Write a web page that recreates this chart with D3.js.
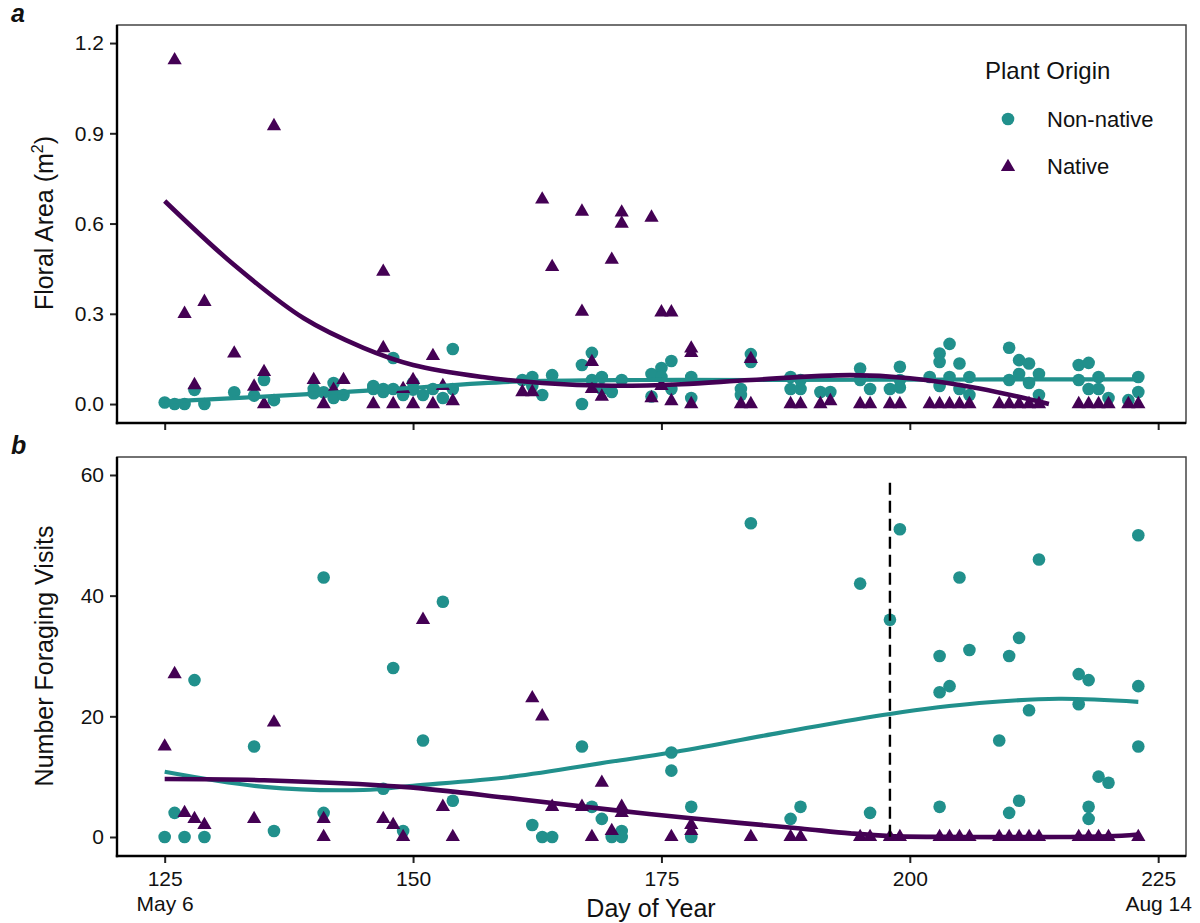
<!DOCTYPE html>
<html>
<head>
<meta charset="utf-8">
<script src="https://cdn.jsdelivr.net/npm/d3@7"></script>
<style>
  body { margin: 0; background: #fff; }
  svg { display: block; }
  text { font-family: "Liberation Sans", Arial, Helvetica, sans-serif; fill: #111; }
</style>
</head>
<body>
<svg id="chart" width="1200" height="923"></svg>
<script>
// ---- Data -------------------------------------------------------------
const seriesNames = ["Non-native", "Native"];
const seriesColors = ["#21908C", "#440154"];

// Panel a: floral area (m^2) by day of year
const areaNonNative = [
  [125,0.005],[126,0.0],[127,0.0],[128,0.047],[129,0.0],[132,0.039],[134,0.028],[135,0.08],
  [136,0.013],[140,0.036],[140,0.05],[141,0.039],[142,0.07],[142,0.02],[143,0.03],[146,0.05],
  [146,0.06],[147,0.05],[147,0.04],[148,0.153],[148,0.05],[149,0.03],[150,0.048],[150,0.07],
  [151,0.03],[152,0.05],[153,0.02],[154,0.183],[154,0.05],[161,0.08],[162,0.09],[162,0.06],
  [163,0.03],[164,0.096],[167,0.13],[167,0.0],[168,0.17],[168,0.08],[169,0.09],[169,0.05],
  [170,0.04],[171,0.08],[174,0.1],[174,0.025],[175,0.12],[175,0.09],[176,0.143],[176,0.05],
  [178,0.09],[178,0.02],[183,0.05],[183,0.03],[184,0.166],[184,0.14],[188,0.09],[188,0.05],
  [189,0.05],[189,0.08],[191,0.04],[192,0.04],[195,0.118],[195,0.08],[196,0.05],[198,0.05],
  [199,0.124],[199,0.08],[199,0.055],[202,0.09],[203,0.168],[203,0.14],[203,0.06],[204,0.2],
  [204,0.09],[205,0.135],[205,0.05],[206,0.09],[206,0.03],[210,0.187],[210,0.08],[211,0.146],
  [211,0.1],[212,0.135],[212,0.07],[213,0.1],[213,0.03],[217,0.13],[217,0.08],[218,0.137],
  [218,0.05],[219,0.09],[219,0.05],[220,0.02],[222,0.013],[223,0.09],[223,0.04]
];
const areaNative = [
  [126,1.143],[127,0.30],[128,0.063],[129,0.34],[132,0.168],[134,0.058],[135,0.107],[135,0.0],
  [136,0.924],[140,0.08],[141,0.0],[142,0.048],[143,0.08],[146,0.0],[147,0.44],[147,0.186],
  [148,0.0],[149,0.05],[150,0.08],[150,0.0],[152,0.16],[152,0.0],[153,0.06],[154,0.01],
  [161,0.04],[162,0.04],[163,0.68],[164,0.456],[167,0.64],[167,0.307],[168,0.14],[168,0.05],
  [169,0.025],[170,0.48],[171,0.637],[171,0.6],[174,0.62],[174,0.02],[175,0.305],[175,0.06],
  [176,0.305],[176,0.01],[178,0.185],[178,0.17],[178,0.0],[183,0.0],[184,0.15],[184,0.0],
  [188,0.0],[189,0.0],[191,0.0],[192,0.01],[195,0.0],[196,0.0],[198,0.0],[199,0.0],[202,0.0],
  [203,0.0],[204,0.0],[205,0.0],[206,0.0],[209,0.0],[210,0.0],[211,0.0],[212,0.0],[213,0.0],
  [217,0.0],[218,0.0],[219,0.0],[220,0.0],[222,0.0],[223,0.0]
];
// Smoothed trends for panel a
const areaTrendNonNative = [[125,0.008],[139,0.032],[149,0.052],[160,0.074],[173,0.08],[187,0.08],[210,0.082],[223,0.082]];
const areaTrendNative = [[125,0.675],[132,0.462],[139,0.285],[145,0.187],[150,0.13],[157,0.09],[163,0.07],[170,0.061],[177,0.066],[184,0.08],[194,0.096],[200,0.086],[207,0.052],[214,0.0]];

// Panel b: number of foraging visits by day of year
const visitsNonNative = [
  [125,0],[126,4],[127,0],[128,26],[129,0],[134,15],[136,1],[141,43],[141,4],[147,8],[148,28],
  [149,1],[151,16],[153,39],[154,6],[162,2],[163,0],[164,0],[167,15],[168,5],[169,3],[170,0],
  [171,1],[171,0],[176,14],[176,11],[178,5],[178,0],[184,52],[188,3],[189,5],[195,42],[196,4],
  [198,36],[199,51],[203,30],[203,24],[203,5],[204,25],[205,43],[206,31],[209,16],[210,30],
  [210,4],[211,33],[211,6],[212,21],[213,46],[217,27],[217,22],[218,26],[218,5],[218,3],
  [219,10],[220,9],[223,50],[223,25],[223,15]
];
const visitsNative = [
  [125,15],[126,27],[127,4],[128,3],[129,2],[134,3],[136,19],[141,3],[141,0],[147,3],[148,2],
  [149,0],[151,36],[153,5],[154,0],[162,23],[163,20],[164,5],[167,5],[168,0],[169,9],[170,1],
  [171,5],[171,4],[176,0],[178,2],[178,1],[184,0],[188,0],[189,0],[195,0],[196,0],[198,0],
  [199,0],[203,0],[204,0],[205,0],[206,0],[209,0],[210,0],[211,0],[212,0],[213,0],[217,0],
  [218,0],[219,0],[220,0],[223,0]
];
// Smoothed trends for panel b
const visitsTrendNonNative = [[125,10.8],[135,8.3],[145,7.8],[150,8.5],[160,10],[170,12.5],[176,14],[187,17.3],[198,20.4],[207,22.2],[215,22.9],[223,22.4]];
const visitsTrendNative = [[125,9.6],[135,9.4],[149,8.3],[160,6.4],[170,4.5],[178,3.1],[189,1.4],[194,0.6],[198,0.15],[205,0],[215,0],[220,0.1],[223,0.4]];

// Reference day marked in panel b
const markerDay = 198;
const markerTop = 58.7;

// Ticks
const xTicks = [125, 150, 175, 200, 225];
const xTickLabels = [["125", "May 6"], ["150"], ["175"], ["200"], ["225", "Aug 14"]];
const areaTicks = [0, 0.3, 0.6, 0.9, 1.2];
const visitTicks = [0, 20, 40, 60];

// ---- Layout ------------------------------------------------------------
const svg = d3.select("#chart");
svg.append("rect").attr("width", 1200).attr("height", 923).attr("fill", "#fff");

const left = 117, right = 1186;
const x = d3.scaleLinear().domain([120.2, 227.8]).range([left, right]);
const yA = d3.scaleLinear().domain([-0.063, 1.26]).range([423, 25]);
const yB = d3.scaleLinear().domain([-3.15, 62.98]).range([856, 457]);

const triangle = d3.symbol().type(d3.symbolTriangle).size(88);

function drawPanel(y, yTicks, yFormat, showXLabels, pts, trends) {
  const [top, bottom] = [y.range()[1], y.range()[0]];
  const g = svg.append("g");

  // panel frame
  g.append("rect")
    .attr("x", left).attr("y", top)
    .attr("width", right - left).attr("height", bottom - top)
    .attr("fill", "none").attr("stroke", "#444").attr("stroke-width", 1.5);

  // points: circles for non-native, triangles for native
  g.append("g").selectAll("circle").data(pts[0]).join("circle")
    .attr("cx", d => x(d[0])).attr("cy", d => y(d[1])).attr("r", 6.3)
    .attr("fill", seriesColors[0]);
  g.append("g").selectAll("path").data(pts[1]).join("path")
    .attr("d", triangle)
    .attr("transform", d => `translate(${x(d[0])},${y(d[1])})`)
    .attr("fill", seriesColors[1]);

  // smoothed trends
  const line = d3.line().x(d => x(d[0])).y(d => y(d[1])).curve(d3.curveCatmullRom.alpha(0.5));
  trends.forEach((t, i) => {
    g.append("path").datum(t).attr("d", line)
      .attr("fill", "none").attr("stroke", seriesColors[i])
      .attr("stroke-width", i === 1 ? 4.6 : 4.1).attr("stroke-linecap", "butt");
  });

  // y axis
  const ya = g.append("g").attr("transform", `translate(${left},0)`)
    .call(d3.axisLeft(y).tickValues(yTicks).tickFormat(yFormat).tickSize(7).tickPadding(6));
  // x axis
  const xa = g.append("g").attr("transform", `translate(0,${bottom})`)
    .call(d3.axisBottom(x).tickValues(xTicks).tickSize(7).tickPadding(8)
      .tickFormat(showXLabels ? (d, i) => xTickLabels[i][0] : () => ""));

  [ya, xa].forEach(a => {
    a.select(".domain").remove();
    a.selectAll(".tick line").attr("stroke", "#222").attr("stroke-width", 2);
    a.selectAll(".tick text").attr("font-size", 21).attr("fill", "#111")
      .attr("font-family", '"Liberation Sans", Arial, sans-serif');
  });
  if (showXLabels) {
    xa.selectAll(".tick text").each(function (d, i) {
      const lines = xTickLabels[i];
      if (lines.length > 1) {
        d3.select(this).append("tspan").attr("x", 0).attr("dy", "1.19em").text(lines[1]);
      }
    });
  }

  // left and bottom axis lines
  g.append("line").attr("x1", left).attr("x2", left).attr("y1", top).attr("y2", bottom + 1.2)
    .attr("stroke", "#000").attr("stroke-width", 2.4);
  g.append("line").attr("x1", left - 1.2).attr("x2", right).attr("y1", bottom).attr("y2", bottom)
    .attr("stroke", "#000").attr("stroke-width", 2.4);
  return g;
}

drawPanel(yA, areaTicks, d3.format(".1f"), false, [areaNonNative, areaNative], [areaTrendNonNative, areaTrendNative]);
const gB = drawPanel(yB, visitTicks, d3.format("d"), true, [visitsNonNative, visitsNative], [visitsTrendNonNative, visitsTrendNative]);

// dashed marker day line in panel b
gB.append("line")
  .attr("x1", x(markerDay)).attr("x2", x(markerDay))
  .attr("y1", yB(markerTop)).attr("y2", yB(0))
  .attr("stroke", "#000").attr("stroke-width", 2.4).attr("stroke-dasharray", "12,6");

// axis titles
const titleA = svg.append("text").attr("transform", "translate(53,223) rotate(-90)")
  .attr("text-anchor", "middle").attr("font-size", 25);
titleA.append("tspan").text("Floral Area (m");
titleA.append("tspan").attr("font-size", 16).attr("dy", -10).text("2");
titleA.append("tspan").attr("dy", 10).text(")");

svg.append("text").attr("transform", "translate(53,656) rotate(-90)")
  .attr("text-anchor", "middle").attr("font-size", 25).text("Number Foraging Visits");

svg.append("text").attr("x", 651).attr("y", 917)
  .attr("text-anchor", "middle").attr("font-size", 25).text("Day of Year");

// panel tags
svg.append("text").attr("x", 11).attr("y", 22).attr("font-size", 25)
  .attr("font-weight", "bold").attr("font-style", "italic").text("a");
svg.append("text").attr("x", 11).attr("y", 454).attr("font-size", 25)
  .attr("font-weight", "bold").attr("font-style", "italic").text("b");

// legend
const legend = svg.append("g");
legend.append("text").attr("x", 985).attr("y", 79).attr("font-size", 24).text("Plant Origin");
const legendY = [119, 166];
seriesNames.forEach((name, i) => {
  if (i === 0) {
    legend.append("circle").attr("cx", 1008).attr("cy", legendY[i]).attr("r", 6.3).attr("fill", seriesColors[i]);
  } else {
    legend.append("path").attr("d", triangle).attr("transform", `translate(1008,${legendY[i] + 1})`).attr("fill", seriesColors[i]);
  }
  legend.append("text").attr("x", 1047).attr("y", legendY[i] + 8).attr("font-size", 22).text(name);
});
</script>
</body>
</html>
